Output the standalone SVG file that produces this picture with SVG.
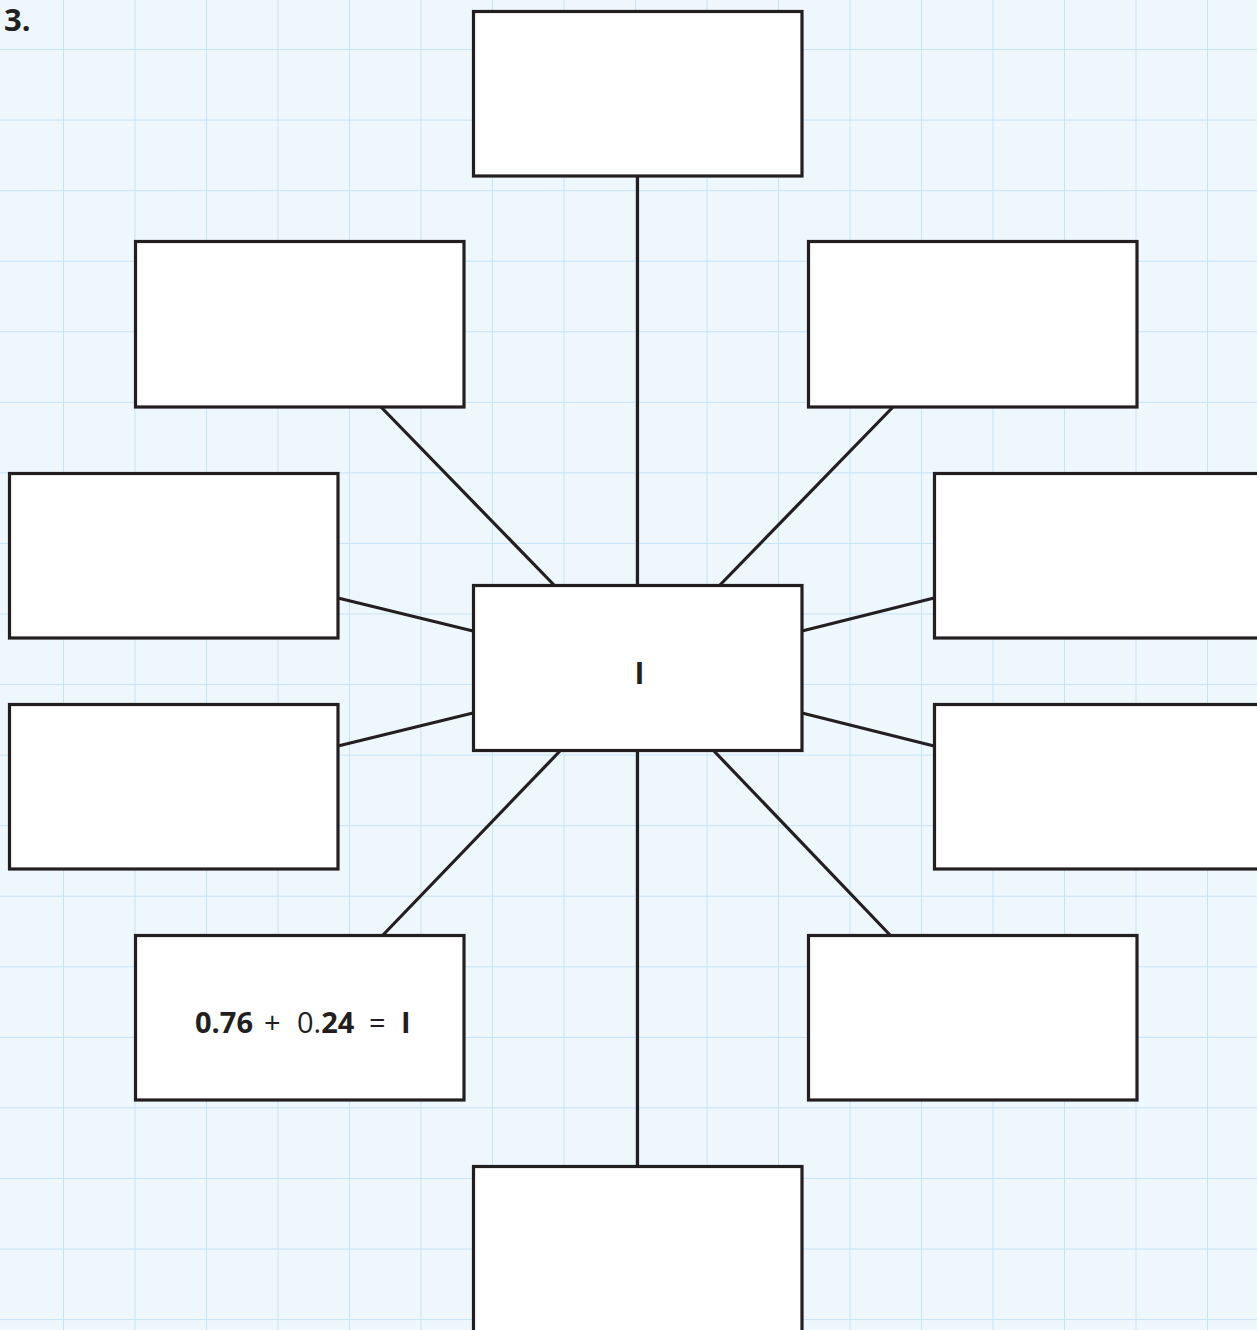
<svg xmlns="http://www.w3.org/2000/svg" width="1257" height="1330" viewBox="0 0 1257 1330">
  <defs>
    <style>
      .box { fill: #ffffff; stroke: #231f20; stroke-width: 3.2; }
      .link { stroke: #231f20; stroke-width: 3.2; fill: none; }
      .grid { stroke: #c6e3f5; stroke-width: 2; }
      .txt { font-family: "Open Sans", "Noto Sans", "DejaVu Sans", sans-serif; fill: #231f20; }
      .b { font-weight: bold; }
    </style>
    <pattern id="grid" x="63" y="49" width="71.5" height="70.56" patternUnits="userSpaceOnUse">
      <line class="grid" x1="0" y1="0" x2="0" y2="70.56"/>
      <line class="grid" x1="0" y1="0" x2="71.5" y2="0"/>
    </pattern>
  </defs>

  <!-- squared paper -->
  <rect x="0" y="0" width="1257" height="1330" fill="#eef7fc"/>
  <rect x="0" y="0" width="1257" height="1330" fill="url(#grid)"/>

  <text class="txt b" x="4" y="31" font-size="31">3.</text>

  <!-- spokes -->
  <g id="connectors">
    <line class="link" x1="637.5" y1="176" x2="637.5" y2="585"/>
    <line class="link" x1="637.5" y1="751" x2="637.5" y2="1166"/>
    <line class="link" x1="381" y1="407" x2="554" y2="585"/>
    <line class="link" x1="893" y1="407" x2="720" y2="585"/>
    <line class="link" x1="338" y1="598" x2="473" y2="631"/>
    <line class="link" x1="934" y1="598" x2="802" y2="631"/>
    <line class="link" x1="338" y1="746" x2="473" y2="713"/>
    <line class="link" x1="934" y1="746" x2="802" y2="713"/>
    <line class="link" x1="383" y1="935" x2="560" y2="751"/>
    <line class="link" x1="890" y1="935" x2="714" y2="751"/>
  </g>

  <g id="center">
    <rect class="box" x="473.5" y="585.5" width="328.5" height="165"/>
    <text class="txt b" x="639.5" y="684" font-size="30" text-anchor="middle">I</text>
  </g>
  <g id="top"><rect class="box" x="473.5" y="11.5" width="328.5" height="164.5"/></g>
  <g id="upper-left"><rect class="box" x="135.5" y="241.5" width="328.5" height="165.5"/></g>
  <g id="upper-right"><rect class="box" x="808.5" y="241.5" width="328.5" height="165.5"/></g>
  <g id="mid-left-1"><rect class="box" x="9.5" y="473.5" width="328.5" height="164.5"/></g>
  <g id="mid-right-1"><rect class="box" x="934.5" y="473.5" width="340" height="164.5"/></g>
  <g id="mid-left-2"><rect class="box" x="9.5" y="704.5" width="328.5" height="164.5"/></g>
  <g id="mid-right-2"><rect class="box" x="934.5" y="704.5" width="340" height="164.5"/></g>
  <g id="lower-left">
    <rect class="box" x="135.5" y="935.5" width="328.5" height="164.5"/>
    <text class="txt" y="1033" font-size="29"><tspan class="b" x="195">0.76</tspan><tspan x="264">+</tspan><tspan x="297">0.</tspan><tspan class="b">24</tspan><tspan x="369">=</tspan><tspan class="b" x="401">I</tspan></text>
  </g>
  <g id="lower-right"><rect class="box" x="808.5" y="935.5" width="328.5" height="164.5"/></g>
  <g id="bottom"><rect class="box" x="473.5" y="1166.5" width="328.5" height="180"/></g>
</svg>
